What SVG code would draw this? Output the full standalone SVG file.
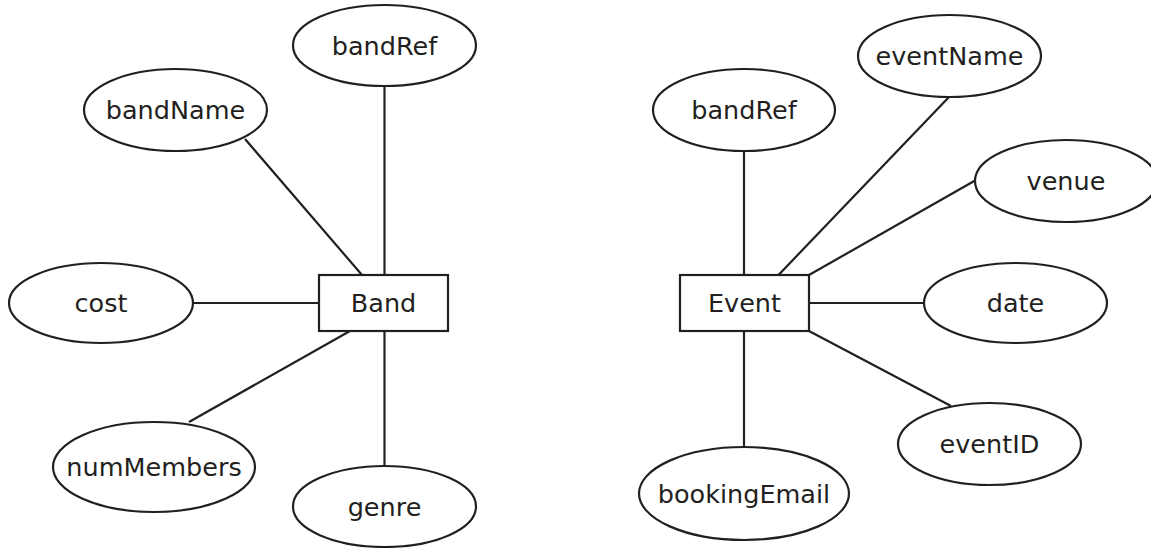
<svg xmlns="http://www.w3.org/2000/svg" width="1151" height="548" viewBox="0 0 1151 548">
<style>
.shape{fill:#fff;stroke:#231f20;stroke-width:2.2}
.conn line{stroke:#231f20;stroke-width:2.2}
text{font-family:"DejaVu Sans",sans-serif;font-size:25.5px;fill:#231f20;text-anchor:middle}
</style>
<rect width="1151" height="548" fill="#fff"/>
<g class="conn" id="connectors">
<line x1="245" y1="139" x2="362" y2="275"/>
<line x1="384.5" y1="86" x2="384.5" y2="275"/>
<line x1="193" y1="303" x2="319" y2="303"/>
<line x1="350" y1="331" x2="189" y2="422"/>
<line x1="384.5" y1="331" x2="384.5" y2="466"/>
<line x1="744" y1="151" x2="744" y2="275"/>
<line x1="949" y1="97" x2="778.5" y2="275"/>
<line x1="976" y1="180" x2="809" y2="275"/>
<line x1="809" y1="303" x2="924" y2="303"/>
<line x1="809" y1="331" x2="951" y2="406"/>
<line x1="744" y1="331" x2="744" y2="446"/>
</g>
<g id="band"><rect class="shape" x="319" y="275" width="129" height="56"/><text x="383.5" y="312">Band</text></g>
<g id="band-bandRef"><ellipse class="shape" cx="384.5" cy="45.5" rx="91.5" ry="40.5"/><text x="384.5" y="55">bandRef</text></g>
<g id="band-bandName"><ellipse class="shape" cx="175.5" cy="110" rx="91.5" ry="41"/><text x="175.5" y="119">bandName</text></g>
<g id="band-cost"><ellipse class="shape" cx="101" cy="303" rx="92" ry="40"/><text x="101" y="312">cost</text></g>
<g id="band-numMembers"><ellipse class="shape" cx="154" cy="467" rx="101" ry="45"/><text x="154" y="476">numMembers</text></g>
<g id="band-genre"><ellipse class="shape" cx="384.5" cy="506.5" rx="91.5" ry="40.5"/><text x="384.5" y="516">genre</text></g>
<g id="event"><rect class="shape" x="680" y="275" width="129" height="56"/><text x="744.5" y="312">Event</text></g>
<g id="event-bandRef"><ellipse class="shape" cx="744" cy="110" rx="91" ry="41"/><text x="744" y="119">bandRef</text></g>
<g id="event-eventName"><ellipse class="shape" cx="949.5" cy="56" rx="91.5" ry="41"/><text x="949.5" y="65">eventName</text></g>
<g id="event-venue"><ellipse class="shape" cx="1066" cy="181" rx="91" ry="41"/><text x="1066" y="190">venue</text></g>
<g id="event-date"><ellipse class="shape" cx="1015.5" cy="303" rx="91.5" ry="40"/><text x="1015.5" y="312">date</text></g>
<g id="event-eventID"><ellipse class="shape" cx="989.5" cy="444" rx="91.5" ry="41"/><text x="989.5" y="453">eventID</text></g>
<g id="event-bookingEmail"><ellipse class="shape" cx="744" cy="493.5" rx="105" ry="46.5"/><text x="744" y="502.5">bookingEmail</text></g>
</svg>
